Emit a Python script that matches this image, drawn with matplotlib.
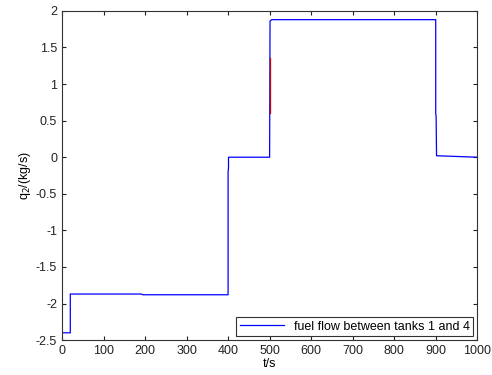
import matplotlib
matplotlib.use('Agg')
import matplotlib.pyplot as plt

plt.rcParams['font.family'] = ['Liberation Sans', 'DejaVu Sans']

# step profile of q2
t = [0, 20, 20, 190, 195, 400, 400, 401, 401, 500, 500, 501, 505, 900, 900, 901, 902, 1000]
q2 = [-2.4, -2.4, -1.87, -1.87, -1.88, -1.88, -0.2, -0.15, 0.0, 0.0, 0.0, 1.86, 1.88, 1.88, 0.6, 0.55, 0.02, 0.0]

# short red piece visible on the jump at t=500
t_red = [500, 500]
q_red = [0.6, 1.35]

xticks = list(range(0, 1001, 100))
yticks = [-2.5, -2, -1.5, -1, -0.5, 0, 0.5, 1, 1.5, 2]

fig = plt.figure(figsize=(4.92, 3.75), dpi=100)
ax = fig.add_axes([0.126, 0.093, 0.844, 0.878])

ax.plot(t, q2, color='#0000ff', lw=0.9, label='fuel flow between tanks 1 and 4')
ax.plot(t_red, q_red, color='#cc0000', lw=0.9)

ax.set_xlim(0, 1000)
ax.set_ylim(-2.5, 2)
ax.set_xticks(xticks)
ax.set_yticks(yticks)
ax.set_xticklabels([str(x) for x in xticks])
ax.set_yticklabels([f'{y:g}' for y in yticks])
ax.tick_params(direction='in', top=True, right=True, length=3, labelsize=9, colors='#222222', width=0.8)
for s in ax.spines.values():
    s.set_color('#333333')
    s.set_linewidth(0.8)

ax.set_xlabel('t/s', fontsize=9, labelpad=1)
ax.set_ylabel('q$_2$/(kg/s)', fontsize=9, labelpad=2)

leg = ax.legend(loc='lower right', fontsize=9, fancybox=False, framealpha=1,
                edgecolor='#333333', borderpad=0.3, handlelength=3.5,
                borderaxespad=0.3)
leg.get_frame().set_linewidth(0.8)

fig.savefig('out.png', dpi=100)
